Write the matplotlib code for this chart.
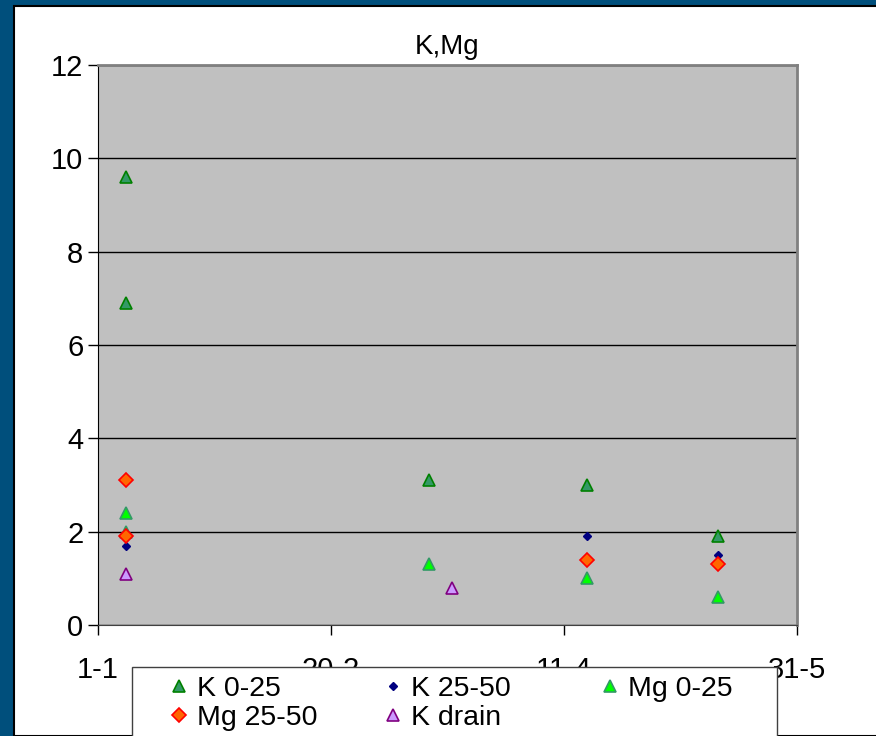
import numpy as np
import pandas as pd
import matplotlib
matplotlib.use('Agg')
import matplotlib.pyplot as plt
from matplotlib.patches import Rectangle

plt.rcParams['font.family'] = ['Liberation Sans', 'DejaVu Sans']

# Data
k_0_25_dates = ['2007-01-07', '2007-01-07', '2007-03-13', '2007-04-16', '2007-05-14']
k_0_25 = [9.6, 6.9, 3.1, 3.0, 1.9]

k_25_50_dates = ['2007-01-07', '2007-04-16', '2007-05-14']
k_25_50 = [1.7, 1.9, 1.5]

mg_0_25_dates = ['2007-01-07', '2007-01-07', '2007-03-13', '2007-04-16', '2007-05-14']
mg_0_25 = [2.4, 2.0, 1.3, 1.0, 0.6]

mg_25_50_dates = ['2007-01-07', '2007-01-07', '2007-04-16', '2007-05-14']
mg_25_50 = [3.1, 1.9, 1.4, 1.3]

k_drain_dates = ['2007-01-07', '2007-03-18']
k_drain = [1.1, 0.8]

tick_dates = ['2007-01-01', '2007-02-20', '2007-04-11', '2007-05-31']
tick_labels = ['1-1', '20-2', '11-4', '31-5']

W, H = 876, 736
fig = plt.figure(figsize=(W / 100, H / 100), dpi=100)
fig.patch.set_facecolor('#004F7C')

# white chart area with dark edge on top/left
fig.patches.append(Rectangle((14 / W, 0), 1, (H - 6) / H, transform=fig.transFigure,
                             facecolor='white', edgecolor='black', linewidth=1.5, zorder=-5))

ax = fig.add_axes([98 / W, 1 - 625 / H, (797 - 98) / W, (625 - 65) / H])
ax.set_facecolor('#C0C0C0')

d = lambda s: pd.to_datetime(s)

h_k025, = ax.plot(d(k_0_25_dates), k_0_25, linestyle='none', marker='^', markersize=9,
                  markerfacecolor='#339966', markeredgecolor='#008000', markeredgewidth=1.2, label='K 0-25')
h_k2550, = ax.plot(d(k_25_50_dates), k_25_50, linestyle='none', marker='D', markersize=4,
                   markerfacecolor='#000080', markeredgecolor='#000080', label='K 25-50')
h_mg025, = ax.plot(d(mg_0_25_dates), mg_0_25, linestyle='none', marker='^', markersize=9,
                   markerfacecolor='#00FF00', markeredgecolor='#339966', markeredgewidth=1.2, label='Mg 0-25')
h_mg2550, = ax.plot(d(mg_25_50_dates), mg_25_50, linestyle='none', marker='D', markersize=7,
                    markerfacecolor='#FF6600', markeredgecolor='#FF0000', markeredgewidth=1.2, label='Mg 25-50')
h_kdr, = ax.plot(d(k_drain_dates), k_drain, linestyle='none', marker='^', markersize=9,
                 markerfacecolor='#CC99FF', markeredgecolor='#800080', markeredgewidth=1.2, label='K drain')

ax.set_xlim(d(tick_dates[0]), d(tick_dates[-1]))
ax.set_ylim(0, 12)
ax.set_xticks(d(tick_dates))
ax.set_xticklabels(tick_labels)
ax.set_yticks(np.arange(0, 13, 2))

ax.grid(axis='y', color='black', linewidth=1)
ax.set_axisbelow(True)

for side in ['top', 'right']:
    ax.spines[side].set_color('#808080')
    ax.spines[side].set_linewidth(2)
ax.spines['left'].set_color('black')
ax.spines['bottom'].set_color('#404040')
ax.tick_params(axis='both', direction='out', length=7.5, width=1, labelsize=21, color='black')
ax.tick_params(axis='x', pad=15)
ax.tick_params(axis='y', pad=3)

ax.set_title('K,Mg', fontsize=20, pad=8)

# legend box (runs off the bottom edge, as in the original)
fig.patches.append(Rectangle((132 / W, -0.05), (777 - 132) / W, 0.05 + (H - 667) / H,
                             transform=fig.transFigure, facecolor='white',
                             edgecolor='#404040', linewidth=1, zorder=5))

# three single-column legends to place the columns like Excel did
columns = [([h_k025, h_mg2550], 169), ([h_k2550, h_kdr], 383), ([h_mg025], 600)]
for hs, xpix in columns:
    leg = fig.legend(handles=hs, labels=[h.get_label() for h in hs],
                     loc='upper left', bbox_to_anchor=(xpix / W, 1 - 676 / H),
                     ncol=1, fontsize=20.5, frameon=False, handlelength=0.7,
                     handletextpad=0.27, labelspacing=0.1, borderpad=0,
                     borderaxespad=0)
    leg.set_zorder(6)

fig.savefig('out.png', dpi=100, facecolor=fig.get_facecolor())
